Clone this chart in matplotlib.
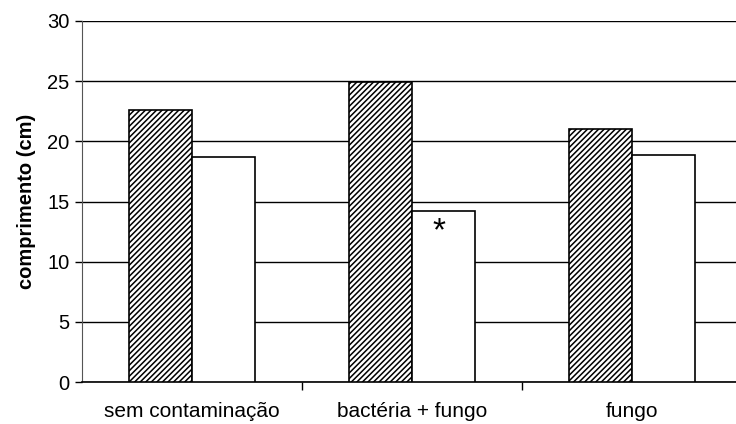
import matplotlib
matplotlib.use("Agg")
import matplotlib.pyplot as plt
import numpy as np

plt.rcParams['font.family'] = ['Liberation Sans', 'DejaVu Sans']
plt.rcParams['hatch.linewidth'] = 1.1
plt.rcParams['hatch.color'] = '#3a3a3a'

categories = ["sem contaminação", "bactéria + fungo", "fungo"]
hatched_vals = [22.6, 24.9, 21.0]
white_vals = [18.7, 14.2, 18.9]
y_ticks = [0, 5, 10, 15, 20, 25, 30]

fig = plt.figure(figsize=(7.36, 4.24), dpi=100)
# axes extends slightly beyond the right edge, like the original
ax = fig.add_axes([82/736, 42/424, 660/736, 361/424])

x = np.arange(len(categories))
w = 0.286
ax.bar(x - w/2, hatched_vals, w, color='white', edgecolor='black',
       hatch='//////', linewidth=1.2, zorder=3)
ax.bar(x + w/2, white_vals, w, color='white', edgecolor='black',
       linewidth=1.2, zorder=3)

ax.text(x[1] + w/2 - 0.02, 12.5, "*", ha='center', va='center', fontsize=24,
        fontweight='light', zorder=4)

ax.set_xlim(-0.5, 2.5)
ax.set_ylim(0, 30)
ax.set_yticks(y_ticks)
ax.yaxis.grid(True, color='black', linewidth=1.0, zorder=0)
ax.set_axisbelow(True)

ax.set_xticks(x)
ax.set_xticklabels(categories, fontsize=15)
ax.tick_params(axis='x', which='major', length=0, pad=14.5)
ax.set_xticks([0.5, 1.5], minor=True)
ax.tick_params(axis='x', which='minor', length=6, width=1, direction='out')
ax.tick_params(axis='y', labelsize=14.5, length=5, width=1, direction='out', pad=4)

ax.spines['top'].set_visible(False)
ax.spines['right'].set_visible(False)
ax.spines['left'].set_color('#555555')
ax.spines['bottom'].set_linewidth(1.2)

ax.set_ylabel("comprimento (cm)", fontsize=14.5, fontweight='bold', labelpad=8)

fig.savefig("out.png", dpi=100)
